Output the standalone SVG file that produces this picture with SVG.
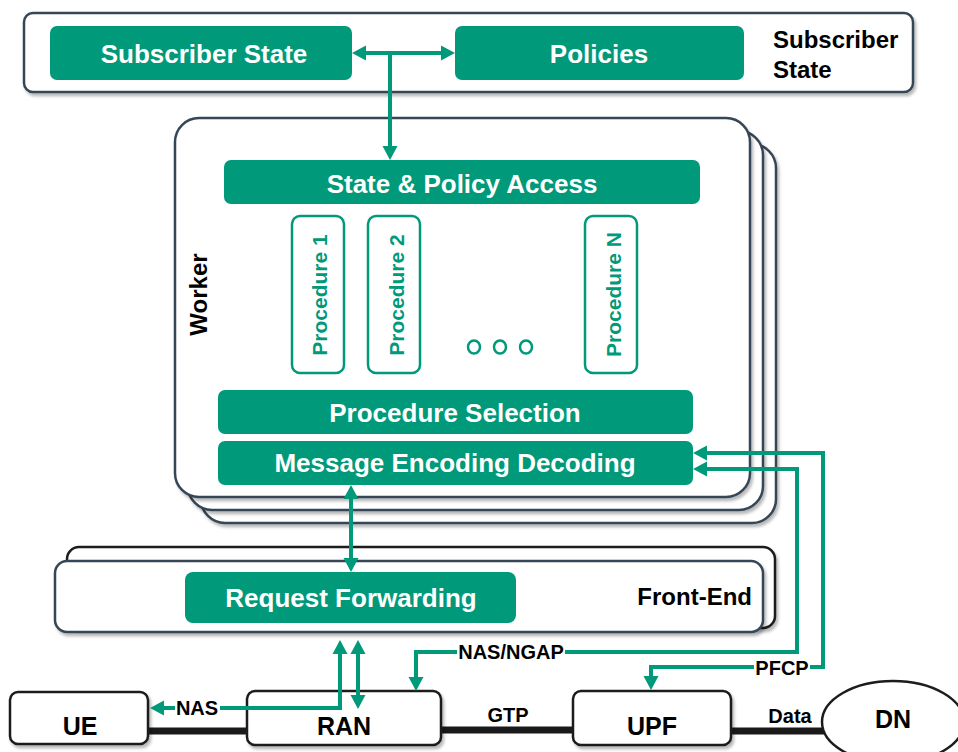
<svg xmlns="http://www.w3.org/2000/svg" width="958" height="752" viewBox="0 0 958 752">
  <defs>
    <style>
      .frame { fill: #ffffff; stroke: #364657; stroke-width: 2.5; }
      .frame-dark { fill: #ffffff; stroke: #1c1c1c; stroke-width: 2.5; }
      .node { fill: #ffffff; stroke: #1c1c1c; stroke-width: 2.5; }
      .green { fill: #00997a; }
      .proc { fill: #ffffff; stroke: #00997a; stroke-width: 2.5; }
      .dot { fill: none; stroke: #00997a; stroke-width: 2.5; }
      .wt { font-family: "Liberation Sans", Arial, sans-serif; font-weight: bold; font-size: 26px; fill: #ffffff; text-anchor: middle; }
      .pt { font-family: "Liberation Sans", Arial, sans-serif; font-weight: bold; font-size: 21px; fill: #00997a; text-anchor: middle; }
      .bt { font-family: "Liberation Sans", Arial, sans-serif; font-weight: bold; fill: #000000; }
      .lbl { font-family: "Liberation Sans", Arial, sans-serif; font-weight: bold; font-size: 20px; fill: #000000; text-anchor: middle; }
      .conn { fill: none; stroke: #00997a; stroke-width: 4; marker-end: url(#head); }
      .conn2 { fill: none; stroke: #00997a; stroke-width: 4; marker-start: url(#head); marker-end: url(#head); }
      .link { stroke: #1a1a1a; stroke-width: 7; }
    </style>
    <marker id="head" markerUnits="userSpaceOnUse" viewBox="0 -8 14 16" refX="0" refY="0" markerWidth="14" markerHeight="16" orient="auto-start-reverse">
      <path d="M0,-7.5 L14,0 L0,7.5 z" fill="#00997a"/>
    </marker>
    <filter id="sh" x="-5%" y="-10%" width="115%" height="140%">
      <feDropShadow dx="2" dy="3" stdDeviation="1.5" flood-color="#000000" flood-opacity="0.28"/>
    </filter>
  </defs>

  <!-- Subscriber state tier -->
  <g id="subscriber-tier">
    <rect class="frame" x="24" y="13" width="889" height="79" rx="9" filter="url(#sh)"/>
    <text class="bt" font-size="24" x="773" y="48">Subscriber</text>
    <text class="bt" font-size="24" x="773" y="78">State</text>
  </g>
  <g id="subscriber-state">
    <rect class="green" x="50" y="26" width="302" height="54" rx="7"/>
    <text class="wt" x="204" y="63">Subscriber State</text>
  </g>
  <g id="policies">
    <rect class="green" x="455" y="26" width="289" height="54" rx="7"/>
    <text class="wt" x="599" y="63">Policies</text>
  </g>

  <!-- Worker stack -->
  <g id="worker">
    <rect class="frame" x="201" y="144" width="575" height="379" rx="24" filter="url(#sh)"/>
    <rect class="frame" x="188" y="131" width="575" height="379" rx="24" filter="url(#sh)"/>
    <rect class="frame" x="175" y="118" width="575" height="379" rx="24" filter="url(#sh)"/>
    <text class="bt" font-size="24" text-anchor="middle" transform="translate(207,294.5) rotate(-90)">Worker</text>
  </g>
  <g id="state-policy-access">
    <rect class="green" x="224" y="160" width="476" height="44" rx="7"/>
    <text class="wt" x="462" y="193">State &amp; Policy Access</text>
  </g>
  <g id="procedure-1">
    <rect class="proc" x="292" y="216" width="52" height="157" rx="8"/>
    <text class="pt" transform="translate(327,295) rotate(-90)">Procedure 1</text>
  </g>
  <g id="procedure-2">
    <rect class="proc" x="368" y="216" width="52" height="157" rx="8"/>
    <text class="pt" transform="translate(404,295) rotate(-90)">Procedure 2</text>
  </g>
  <g id="procedure-ellipsis">
    <ellipse class="dot" cx="474" cy="347" rx="6" ry="6.5"/>
    <ellipse class="dot" cx="500" cy="347" rx="6" ry="6.5"/>
    <ellipse class="dot" cx="526" cy="347" rx="6" ry="6.5"/>
  </g>
  <g id="procedure-n">
    <rect class="proc" x="585" y="216" width="52" height="157" rx="8"/>
    <text class="pt" transform="translate(621,294.5) rotate(-90)">Procedure N</text>
  </g>
  <g id="procedure-selection">
    <rect class="green" x="218" y="390" width="475" height="44" rx="7"/>
    <text class="wt" x="455" y="422">Procedure Selection</text>
  </g>
  <g id="message-codec">
    <rect class="green" x="218" y="441" width="475" height="44" rx="7"/>
    <text class="wt" x="455" y="472">Message Encoding Decoding</text>
  </g>

  <!-- Front-end stack -->
  <g id="front-end">
    <rect class="frame-dark" x="67" y="547" width="708" height="81" rx="12" filter="url(#sh)"/>
    <rect class="frame" x="55" y="561" width="708" height="71" rx="12" filter="url(#sh)"/>
    <text class="bt" font-size="24" text-anchor="end" x="752" y="605">Front-End</text>
  </g>
  <g id="request-forwarding">
    <rect class="green" x="185" y="572" width="331" height="51" rx="8"/>
    <text class="wt" x="351" y="607">Request Forwarding</text>
  </g>

  <!-- Data plane links -->
  <g id="links">
    <line class="link" x1="148" y1="731" x2="248" y2="731"/>
    <line class="link" x1="440" y1="730" x2="574" y2="730"/>
    <line class="link" x1="730" y1="731" x2="830" y2="731"/>
    <text class="lbl" x="508" y="722">GTP</text>
    <text class="lbl" x="790" y="723">Data</text>
  </g>

  <!-- Network functions -->
  <g id="ue">
    <rect class="node" x="10" y="692" width="138" height="52" rx="8" filter="url(#sh)"/>
    <text class="bt" font-size="25" text-anchor="middle" x="80" y="735">UE</text>
  </g>
  <g id="ran">
    <rect class="node" x="247" y="691" width="194" height="54" rx="8" filter="url(#sh)"/>
    <text class="bt" font-size="25" text-anchor="middle" x="344" y="735">RAN</text>
  </g>
  <g id="upf">
    <rect class="node" x="573" y="691" width="158" height="54" rx="8" filter="url(#sh)"/>
    <text class="bt" font-size="25" text-anchor="middle" x="652" y="735">UPF</text>
  </g>
  <g id="dn">
    <ellipse class="node" cx="893" cy="722" rx="71" ry="41"/>
    <text class="bt" font-size="25" text-anchor="middle" x="893" y="728">DN</text>
  </g>

  <!-- Control plane connectors -->
  <g id="connectors">
    <line class="conn2" x1="366" y1="53" x2="441" y2="53"/>
    <line class="conn" x1="390" y1="53" x2="390" y2="146"/>
    <line class="conn2" x1="351" y1="499" x2="351" y2="558"/>
    <path class="conn2" d="M707,453 H823 V667 H651 V676"/>
    <path class="conn2" d="M707,469 H797 V652 H416 V677"/>
    <path class="conn2" d="M340,654 V708 H164"/>
    <line class="conn2" x1="358" y1="654" x2="358" y2="695"/>
    <rect x="175" y="696" width="45" height="24" fill="#ffffff"/>
    <text class="lbl" x="197" y="715">NAS</text>
    <rect x="457" y="640" width="108" height="24" fill="#ffffff"/>
    <text class="lbl" x="511" y="659">NAS/NGAP</text>
    <rect x="754" y="655" width="56" height="24" fill="#ffffff"/>
    <text class="lbl" x="782" y="675">PFCP</text>
  </g>
</svg>
